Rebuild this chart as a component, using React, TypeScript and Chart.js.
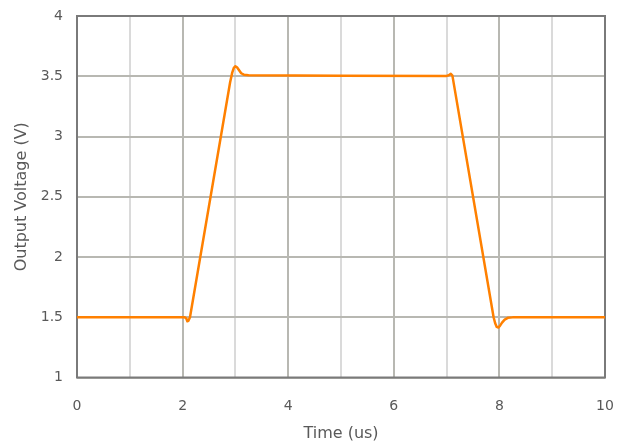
import React, { useEffect, useRef } from "react";
import { Chart, registerables } from "chart.js";

Chart.register(...registerables);

// Time (us) and output voltage (V) samples
const timeUs: number[] = [
  0, 2.04, 2.07, 2.09, 2.11, 2.14, 2.9, 2.94, 2.97, 3.0, 3.03, 3.07, 3.11, 3.16, 3.25, 5.0,
  7.0, 7.04, 7.08, 7.11, 7.89, 7.92, 7.95, 7.98, 8.01, 8.05, 8.1, 8.16, 8.25, 10,
];
const voltage: number[] = [
  1.5, 1.5, 1.49, 1.467, 1.47, 1.5, 3.45, 3.53, 3.57, 3.583, 3.575, 3.55, 3.525, 3.513, 3.508, 3.505,
  3.503, 3.508, 3.52, 3.505, 1.5, 1.45, 1.42, 1.415, 1.428, 1.455, 1.48, 1.495, 1.499, 1.5,
];

const xMin = 0;
const xMax = 10;
const yMin = 1;
const yMax = 4;
const xTitle = "Time (us)";
const yTitle = "Output Voltage (V)";

const FONT = "'DejaVu Sans', Tahoma, sans-serif";
const TEXT = "#595959";

const frame = {
  id: "frame",
  beforeDatasetsDraw(chart: any) {
    const { ctx, chartArea } = chart;
    ctx.save();
    ctx.strokeStyle = "#7a7a7a";
    ctx.lineWidth = 2;
    ctx.strokeRect(chartArea.left, chartArea.top, chartArea.right - chartArea.left, chartArea.bottom - chartArea.top);
    ctx.restore();
  },
};

export default function App() {
  const ref = useRef<HTMLCanvasElement | null>(null);
  useEffect(() => {
    if (!ref.current) return;
    const data = timeUs.map((t, i) => ({ x: t, y: voltage[i] }));
    const chart = new Chart(ref.current, {
      type: "line",
      data: {
        datasets: [
          {
            data,
            borderColor: "#ff8000",
            borderWidth: 2.5,
            pointRadius: 0,
            fill: false,
            tension: 0,
            borderJoinStyle: "round",
          },
        ],
      },
      options: {
        animation: false,
        responsive: false,
        maintainAspectRatio: false,
        layout: { padding: { top: 16, right: 21, left: 0, bottom: 0 } },
        plugins: { legend: { display: false }, tooltip: { enabled: false } },
        scales: {
          x: {
            type: "linear",
            min: xMin,
            max: xMax,
            afterFit: (s: any) => {
              s.height = 68.5;
              s.paddingLeft = 0;
              s.paddingRight = 0;
            },
            ticks: {
              stepSize: 1,
              padding: 20,
              color: TEXT,
              font: { family: FONT, size: 14 },
              maxRotation: 0,
              autoSkip: false,
              callback: (v: any) => (Number(v) % 2 === 0 ? String(v) : ""),
            },
            grid: {
              drawTicks: false,
              lineWidth: 2,
              color: (c: any) => (c.tick && Math.round(c.tick.value) % 2 === 0 ? "#b8b8b2" : "#dadada"),
            },
            border: { display: false },
            title: {
              display: true,
              text: xTitle,
              color: TEXT,
              font: { family: FONT, size: 16 },
              padding: { top: 0, bottom: 3 },
            },
          },
          y: {
            type: "linear",
            min: yMin,
            max: yMax,
            afterFit: (s: any) => {
              s.width = 77;
              s.paddingTop = 0;
              s.paddingBottom = 0;
            },
            ticks: {
              stepSize: 0.5,
              padding: 14,
              color: TEXT,
              font: { family: FONT, size: 14 },
              callback: (v: any) => String(Number(v)),
            },
            grid: { drawTicks: false, lineWidth: 2, color: "#b8b8b2" },
            border: { display: false },
            title: {
              display: true,
              text: yTitle,
              color: TEXT,
              font: { family: FONT, size: 16 },
              padding: { top: 12, bottom: 0 },
            },
          },
        },
      },
      plugins: [frame],
    });
    return () => chart.destroy();
  }, []);
  return (
    <div style={{ position: "fixed", left: 0, top: 0, width: 626, height: 446, background: "#fff" }}>
      <canvas ref={ref} width={626} height={446} style={{ width: 626, height: 446 }} />
    </div>
  );
}
